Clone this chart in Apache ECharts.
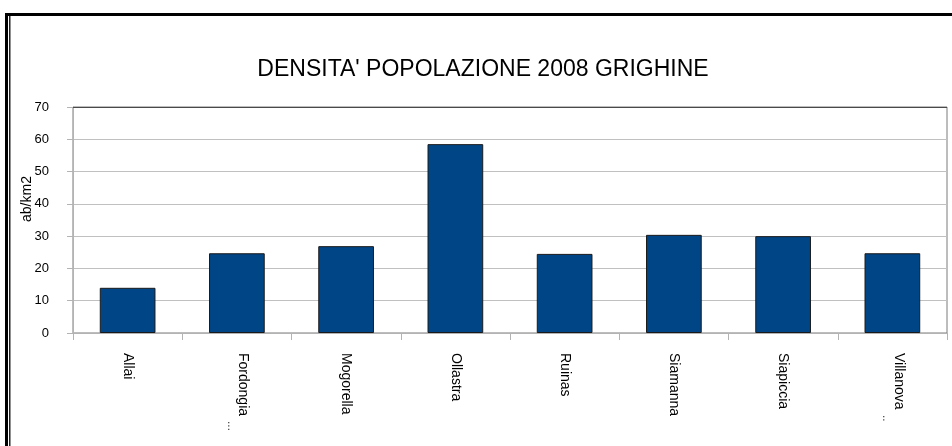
<!DOCTYPE html>
<html>
<head>
<meta charset="utf-8">
<style>
  html, body { margin: 0; padding: 0; background: #fff; }
  #chart { width: 952px; height: 446px; }
</style>
<script src="https://cdn.jsdelivr.net/npm/echarts@6/dist/echarts.min.js"></script>
</head>
<body>
<div id="chart"></div>
<script>
// Population density 2008, Grighine municipalities (inhabitants per km2)
const comuni = ['Allai', 'Fordongianus', 'Mogorella', 'Ollastra', 'Ruinas', 'Siamanna', 'Siapiccia', 'Villanova Truschedu'];
const etichette = ['Allai', 'Fordongia\n{f|...}', 'Mogorella', 'Ollastra', 'Ruinas', 'Siamanna', 'Siapiccia', 'Villanova\n{v|..}'];
const densita = [14.0, 24.7, 26.9, 58.5, 24.5, 30.4, 30.0, 24.7];
const yTicks = [0, 10, 20, 30, 40, 50, 60, 70];

const FONT = 'Liberation Sans, Arial, sans-serif';
const chart = echarts.init(document.getElementById('chart'), null, { renderer: 'canvas' });

chart.setOption({
  animation: false,
  backgroundColor: '#ffffff',
  title: {
    text: "DENSITA' POPOLAZIONE 2008 GRIGHINE",
    left: 478,
    top: 53,
    textAlign: 'center',
    textStyle: { fontFamily: FONT, fontSize: 23, fontWeight: 'normal', color: '#000' }
  },
  grid: {
    left: 73, right: 5, top: 107, bottom: 113,
    outerBoundsMode: 'none',
    containLabel: false,
    show: true, borderColor: '#7a7a7a', borderWidth: 1, backgroundColor: 'transparent'
  },
  xAxis: {
    type: 'category',
    data: comuni,
    axisLine: { lineStyle: { color: '#b3b3b3', width: 1 } },
    axisTick: { show: true, alignWithLabel: false, length: 7, lineStyle: { color: '#b3b3b3' } },
    axisLabel: {
      rotate: -90,
      margin: 20,
      fontFamily: FONT,
      fontSize: 14,
      lineHeight: 12,
      color: '#000',
      interval: 0,
      formatter: (v, i) => etichette[i],
      rich: {
        f: { fontFamily: FONT, fontSize: 12, color: '#555', padding: [0, 0, 0, 68], lineHeight: 12 },
        v: { fontFamily: FONT, fontSize: 12, color: '#555', padding: [0, 0, 0, 62], lineHeight: 12 }
      }
    }
  },
  yAxis: {
    type: 'value',
    min: yTicks[0],
    max: yTicks[yTicks.length - 1],
    interval: 10,
    axisLine: { show: true, lineStyle: { color: '#b3b3b3' } },
    axisTick: { show: true, length: 6, lineStyle: { color: '#b3b3b3' } },
    splitLine: { lineStyle: { color: '#c0c0c0', width: 1 } },
    axisLabel: { margin: 24, fontFamily: FONT, fontSize: 13, color: '#000' }
  },
  graphic: [
    // outer frame
    { type: 'rect', shape: { x: 5, y: 13, width: 947, height: 3 }, style: { fill: '#000' } },
    { type: 'rect', shape: { x: 5, y: 13, width: 3, height: 433 }, style: { fill: '#000' } },
    { type: 'rect', shape: { x: 9, y: 16, width: 1.5, height: 430 }, style: { fill: '#222' } },
    // vertical axis title
    {
      type: 'text', x: 27, y: 199, rotation: Math.PI / 2,
      style: { text: 'ab/km2', fontFamily: FONT, fontSize: 14, fill: '#000', align: 'center', verticalAlign: 'middle' }
    },
    // darker top edge of the plot area
    { type: 'line', shape: { x1: 73, y1: 107.5, x2: 947, y2: 107.5 }, style: { stroke: '#4a4a4a', lineWidth: 1 }, z: 10 }
  ],
  series: [{
    type: 'bar',
    data: densita,
    barWidth: '51%',
    itemStyle: { color: '#004586', borderColor: '#1a1a1a', borderWidth: 1 }
  }]
});
</script>
</body>
</html>
